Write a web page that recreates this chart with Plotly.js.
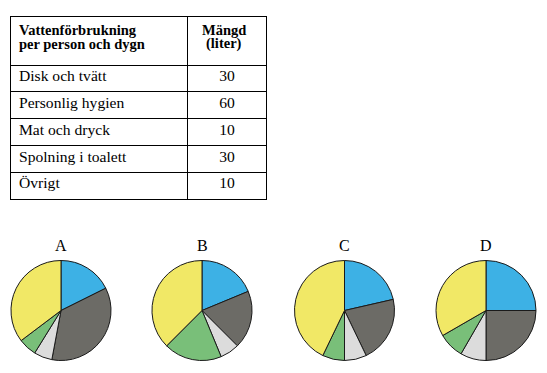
<!DOCTYPE html>
<html>
<head>
<meta charset="utf-8">
<script src="https://cdn.plot.ly/plotly-3.0.1.min.js"></script>
<style>html,body{margin:0;padding:0;background:#fff;}#chart{width:547px;height:373px;}</style>
</head>
<body>
<div id="chart"></div>
<script>
// Table data
const headerCol1 = ['Vattenförbrukning', 'per person och dygn'];
const headerCol2 = ['Mängd', '(liter)'];
const tableCategories = ['Disk och tvätt', 'Personlig hygien', 'Mat och dryck', 'Spolning i toalett', 'Övrigt'];
const tableAmounts = [30, 60, 10, 30, 10];

// Pie data (slice order clockwise from 12 o'clock)
const sliceNames = ['Disk och tvätt', 'Spolning i toalett', 'Mat och dryck', 'Övrigt', 'Personlig hygien'];
const sliceColors = ['#3db1e5', '#6c6b66', '#dcdcdc', '#79bf79', '#f1e866'];
const pieLabels = ['A', 'B', 'C', 'D'];
const pieA = [30, 60, 10, 10, 60];
const pieB = [30, 30, 10, 30, 60];
const pieC = [30, 30, 10, 10, 60];
const pieD = [30, 30, 10, 10, 40];
const pieValues = [pieA, pieB, pieC, pieD];

const W = 547, H = 373;
const serif = 'Liberation Serif';
const px = v => v / W, py = v => (H - v) / H;

const tblLeft = 10, tblRight = 266, tblTop = 16, tblBottom = 201;
const headerH = 49, rowH = 26.8, textLift = 3.5;
const blank = tableCategories.map(() => '');

const traces = [];
// grid
traces.push({
  type: 'table',
  domain: {x: [px(tblLeft), px(tblRight)], y: [py(tblBottom), py(tblTop)]},
  columnwidth: [177, 78],
  header: {values: ['', ''], height: headerH, line: {color: '#000', width: 1}, fill: {color: '#fff'}},
  cells: {values: [blank, blank], height: rowH, line: {color: '#000', width: 1}, fill: {color: '#fff'}}
});
// body text
traces.push({
  type: 'table',
  domain: {x: [px(tblLeft + 1), px(tblRight)], y: [py(tblBottom - textLift), py(tblTop - textLift)]},
  columnwidth: [177, 78],
  header: {values: ['', ''], height: headerH, line: {color: 'rgba(0,0,0,0)', width: 0}, fill: {color: 'rgba(0,0,0,0)'}},
  cells: {
    values: [tableCategories, tableAmounts],
    align: ['left', 'center'],
    height: rowH,
    line: {color: 'rgba(0,0,0,0)', width: 0},
    fill: {color: 'rgba(0,0,0,0)'},
    font: {family: serif, size: 15.6, color: '#000'}
  }
});

const annotations = [];
const hdrFont = {family: serif, size: 14.5, color: '#000'};
const hdrLineY = [30.3, 43.8];
headerCol1.forEach((t, k) => annotations.push({
  text: '<b>' + t + '</b>', x: px(17), y: py(hdrLineY[k]), xref: 'paper', yref: 'paper',
  xanchor: 'left', yanchor: 'middle', showarrow: false, font: hdrFont
}));
headerCol2.forEach((t, k) => annotations.push({
  text: '<b>' + t + '</b>', x: px(223.5), y: py(hdrLineY[k]), xref: 'paper', yref: 'paper',
  xanchor: 'center', yanchor: 'middle', showarrow: false, font: hdrFont
}));

const centersX = [61, 202, 344.5, 486];
const cy = 310.5, r = 50;
pieValues.forEach((vals, i) => {
  traces.push({
    type: 'pie',
    labels: sliceNames,
    values: vals,
    sort: false,
    direction: 'clockwise',
    rotation: 0,
    textinfo: 'none',
    hoverinfo: 'label+value',
    showlegend: false,
    marker: {colors: sliceColors, line: {color: '#1a1a1a', width: 1}},
    domain: {x: [px(centersX[i] - r), px(centersX[i] + r)], y: [py(cy + r), py(cy - r)]}
  });
  annotations.push({
    text: pieLabels[i],
    x: px(centersX[i]), y: py(245),
    xref: 'paper', yref: 'paper',
    xanchor: 'center', yanchor: 'middle',
    showarrow: false,
    font: {family: serif, size: 16, color: '#000'}
  });
});

Plotly.newPlot('chart', traces, {
  width: W, height: H,
  margin: {l: 0, r: 0, t: 0, b: 0},
  paper_bgcolor: '#fff',
  font: {family: serif},
  annotations: annotations
}, {displayModeBar: false, staticPlot: true});
</script>
</body>
</html>
